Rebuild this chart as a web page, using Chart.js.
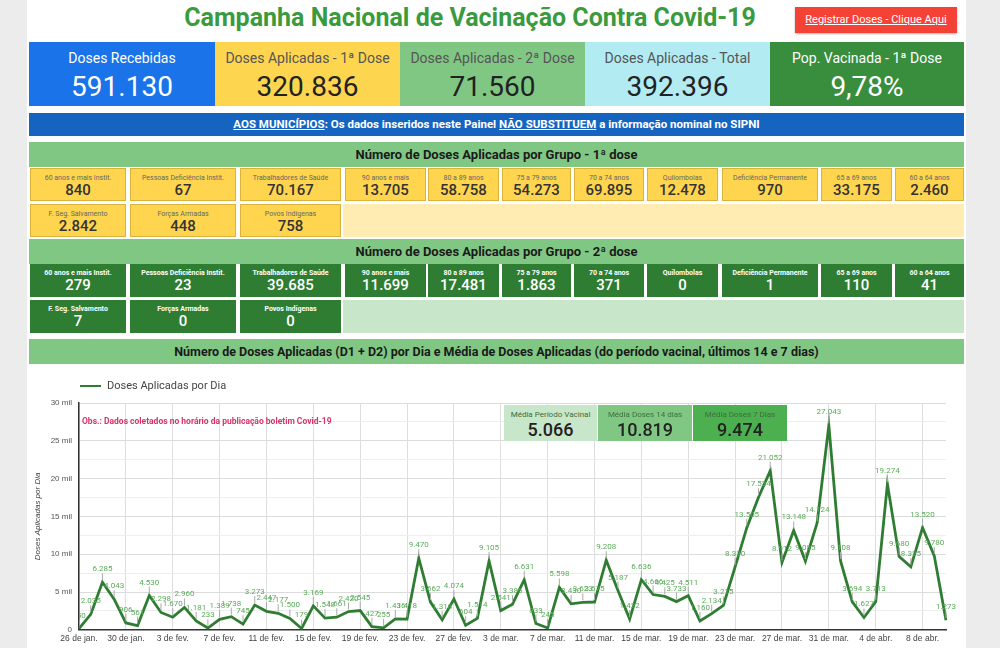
<!DOCTYPE html>
<html>
<head>
<meta charset="utf-8">
<script src="https://cdn.jsdelivr.net/npm/chart.js@4.4.1/dist/chart.umd.min.js"></script>
<style>
  body { margin: 0; width: 1000px; height: 648px; overflow: hidden; position: relative; background: #ececec; font-family: Roboto, "Noto Sans", sans-serif; }
  #pagina { position: absolute; left: 27px; top: 0; width: 939px; height: 648px; background: #fff; }
  .abs { position: absolute; box-sizing: border-box; }
  #titulo { left: 0; top: 3px; width: 940px; text-align: center; font-size: 25px; font-weight: 700; color: #3a9b3e; line-height: 30px; }
  #botao { left: 795px; top: 7px; width: 162px; height: 26px; background: #f44336; color: #fff; font-size: 11px; line-height: 26px; text-align: center; text-decoration: underline; box-shadow: 0 1px 2px rgba(0,0,0,.3); }
  .kpi { top: 42px; height: 64px; text-align: center; }
  .kpi .t { font-size: 14px; margin-top: 8px; line-height: 16px; }
  .kpi .v { font-size: 28px; line-height: 34px; margin-top: 4px; }
  #aviso { left: 29px; top: 113px; width: 935px; height: 23px; background: #1565c0; color: #fff; font-size: 11.5px; font-weight: 700; text-align: center; line-height: 23px; }
  .cab { left: 29px; width: 935px; height: 25px; background: #81c784; color: #1a1a1a; font-weight: 700; font-size: 13px; text-align: center; line-height: 25px; }
  .cel { height: 33px; text-align: center; }
  .cel .t { font-size: 7px; margin-top: 5px; line-height: 8px; white-space: nowrap; overflow: hidden; }
  .cel .v { font-size: 15px; font-weight: 500; line-height: 17px; }
  .d1 { background: #ffd54f; border: 1px solid #d9b33c; color: #333; }
  .d1 .t { color: #666; }
  .d2 { background: #2e7d32; color: #fff; }
  .d2 .t { font-weight: 700; }
  .media { top: 405px; height: 36px; text-align: center; color: #222; }
  .media .t { font-size: 8px; margin-top: 5px; line-height: 10px; color: #3b6e3b; }
  .media .v { font-size: 18px; font-weight: 500; line-height: 20px; }
</style>
</head>
<body>
<div id="pagina"></div>
<div class="abs" id="titulo">Campanha Nacional de Vacinação Contra Covid-19</div>
<div class="abs" id="botao">Registrar Doses - Clique Aqui</div>

<div class="abs kpi" style="left:29px;width:186px;background:#1a73e8;color:#fff"><div class="t">Doses Recebidas</div><div class="v" id="k0"></div></div>
<div class="abs kpi" style="left:215px;width:185px;background:#fdd54f;color:#222"><div class="t" style="color:#555">Doses Aplicadas - 1ª Dose</div><div class="v" id="k1"></div></div>
<div class="abs kpi" style="left:400px;width:185px;background:#81c784;color:#222"><div class="t" style="color:#555">Doses Aplicadas - 2ª Dose</div><div class="v" id="k2"></div></div>
<div class="abs kpi" style="left:585px;width:185px;background:#b2ebf2;color:#222"><div class="t" style="color:#555">Doses Aplicadas - Total</div><div class="v" id="k3"></div></div>
<div class="abs kpi" style="left:770px;width:194px;background:#388e3c;color:#fff"><div class="t">Pop. Vacinada - 1ª Dose</div><div class="v" id="k4"></div></div>

<div class="abs" id="aviso"><u>AOS MUNICÍPIOS</u>: Os dados inseridos neste Painel <u>NÃO SUBSTITUEM</u> a informação nominal no SIPNI</div>

<div class="abs cab" style="top:142px">Número de Doses Aplicadas por Grupo - 1ª dose</div>
<div class="abs" style="left:343px;top:204px;width:621px;height:33px;background:#ffecb3"></div>
<div class="abs cab" style="top:239px">Número de Doses Aplicadas por Grupo - 2ª dose</div>
<div class="abs" style="left:343px;top:300px;width:621px;height:33px;background:#c8e6c9"></div>
<div class="abs cab" style="top:339px;font-size:12.5px">Número de Doses Aplicadas (D1 + D2) por Dia e Média de Doses Aplicadas (do período vacinal, últimos 14 e 7 dias)</div>
<div id="celulas"></div>

<div class="abs" style="left:29px;top:366px;width:935px;height:282px"><canvas id="grafico"></canvas></div>

<div class="abs" style="left:80px;top:385px;width:21px;height:2px;background:#2e7d32"></div>
<div class="abs" style="left:107px;top:378px;font-size:11px;color:#444;line-height:16px">Doses Aplicadas por Dia</div>
<div class="abs" style="left:82px;top:416px;font-size:8.5px;font-weight:700;color:#d6336c">Obs.: Dados coletados no horário da publicação boletim Covid-19</div>

<div class="abs media" style="left:504px;width:93px;background:#c8e6c9"><div class="t">Média Período Vacinal</div><div class="v" id="m0"></div></div>
<div class="abs media" style="left:598px;width:94px;background:#81c784"><div class="t">Média Doses 14 dias</div><div class="v" id="m1"></div></div>
<div class="abs media" style="left:693px;width:94px;background:#4caf50"><div class="t">Média Doses 7 Dias</div><div class="v" id="m2"></div></div>

<script>
// indicadores do topo
const indicadores = ['591.130', '320.836', '71.560', '392.396', '9,78%'];
const medias = ['5.066', '10.819', '9.474'];

// grupos prioritários
const grupos = ['60 anos e mais Instit.', 'Pessoas Deficiência Instit.', 'Trabalhadores de Saúde', '90 anos e mais',
  '80 a 89 anos', '75 a 79 anos', '70 a 74 anos', 'Quilombolas', 'Deficiência Permanente', '65 a 69 anos',
  '60 a 64 anos', 'F. Seg. Salvamento', 'Forças Armadas', 'Povos Indígenas'];
const dose1 = ['840', '67', '70.167', '13.705', '58.758', '54.273', '69.895', '12.478', '970', '33.175', '2.460', '2.842', '448', '758'];
const dose2 = ['279', '23', '39.685', '11.699', '17.481', '1.863', '371', '0', '1', '110', '41', '7', '0', '0'];

// doses aplicadas por dia
const dias = [
  '26 de jan.', '27 de jan.', '28 de jan.', '29 de jan.', '30 de jan.', '31 de jan.',
  '1 de fev.', '2 de fev.', '3 de fev.', '4 de fev.', '5 de fev.', '6 de fev.', '7 de fev.', '8 de fev.',
  '9 de fev.', '10 de fev.', '11 de fev.', '12 de fev.', '13 de fev.', '14 de fev.', '15 de fev.',
  '16 de fev.', '17 de fev.', '18 de fev.', '19 de fev.', '20 de fev.', '21 de fev.', '22 de fev.',
  '23 de fev.', '24 de fev.', '25 de fev.', '26 de fev.', '27 de fev.', '28 de fev.',
  '1 de mar.', '2 de mar.', '3 de mar.', '4 de mar.', '5 de mar.', '6 de mar.', '7 de mar.', '8 de mar.',
  '9 de mar.', '10 de mar.', '11 de mar.', '12 de mar.', '13 de mar.', '14 de mar.', '15 de mar.',
  '16 de mar.', '17 de mar.', '18 de mar.', '19 de mar.', '20 de mar.', '21 de mar.', '22 de mar.',
  '23 de mar.', '24 de mar.', '25 de mar.', '26 de mar.', '27 de mar.', '28 de mar.', '29 de mar.',
  '30 de mar.', '31 de mar.',
  '1 de abr.', '2 de abr.', '3 de abr.', '4 de abr.', '5 de abr.', '6 de abr.', '7 de abr.', '8 de abr.',
  '9 de abr.', '10 de abr.'];
const dosesPorDia = [
  150, 2035, 6285, 4043, 906, 561,
  4530, 2298, 1670, 2960, 1181, 233, 1389, 1738, 745, 3273, 2447, 2177, 1500, 179, 3169,
  1548, 1661, 2420, 2545, 427, 255, 1436, 1418, 9470, 3662, 1318, 4074, 604,
  1514, 9105, 2541, 3386, 6631, 833, 245, 5598, 3430, 3623, 3675, 9208, 5187, 1422, 6636,
  4666, 4425, 3733, 4511, 1160, 2134, 3215, 8330, 13505, 17534, 21052, 8912, 13148, 9085,
  14124, 27043,
  9108, 3694, 1627, 3713, 19274, 9680, 8325, 13520, 9780, 1273];

indicadores.forEach((v, i) => document.getElementById('k' + i).textContent = v);
medias.forEach((v, i) => document.getElementById('m' + i).textContent = v);

// posições das colunas dos cartões
const colX = [30, 130, 240, 345, 428, 502, 574, 647, 722, 821, 895];
const colW = [96, 106, 101, 81, 71, 69, 70, 71, 96, 71, 69];
const linhas = [[168, 'd1', dose1], [264, 'd2', dose2]];
let html = '';
linhas.forEach(([topo, cls, valores]) => {
  grupos.forEach((g, i) => {
    const col = i < 11 ? i : i - 11;
    const y = i < 11 ? topo : topo + 36;
    html += `<div class="abs cel ${cls}" style="left:${colX[col]}px;top:${y}px;width:${colW[col]}px">` +
      `<div class="t">${g}</div><div class="v">${valores[i]}</div></div>`;
  });
});
document.getElementById('celulas').innerHTML = html;

const fmt = n => String(n).replace(/\B(?=(\d{3})+(?!\d))/g, '.');

// rótulos com haste acima de cada ponto
const rotulos = {
  id: 'rotulos',
  afterDatasetsDraw(chart) {
    const { ctx, chartArea: a } = chart;
    const meta = chart.getDatasetMeta(0);
    ctx.save();
    ctx.beginPath();
    ctx.rect(a.left, a.top - 20, a.right - a.left + 30, a.bottom - a.top + 20);
    ctx.clip();
    ctx.font = '8px Roboto';
    ctx.textAlign = 'center';
    ctx.textBaseline = 'bottom';
    meta.data.forEach((p, i) => {
      ctx.strokeStyle = '#aaaaaa';
      ctx.lineWidth = 1;
      ctx.beginPath();
      ctx.moveTo(p.x, p.y - 2);
      ctx.lineTo(p.x, p.y - 9);
      ctx.stroke();
      ctx.fillStyle = '#5aab5a';
      ctx.fillText(fmt(dosesPorDia[i]), p.x, p.y - 9);
    });
    ctx.restore();
  }
};

new Chart(document.getElementById('grafico'), {
  type: 'line',
  data: {
    labels: dias,
    datasets: [{
      label: 'Doses Aplicadas por Dia',
      data: dosesPorDia,
      borderColor: '#2e7d32',
      borderWidth: 2.8,
      pointRadius: 0,
      tension: 0,
      fill: false
    }]
  },
  options: {
    responsive: true,
    maintainAspectRatio: false,
    animation: false,
    layout: { padding: { top: 37, right: 18, bottom: 0, left: 0 } },
    plugins: { legend: { display: false }, tooltip: { enabled: false } },
    scales: {
      x: {
        grid: { color: c => c.index % 4 === 0 ? '#dedede' : 'transparent', drawTicks: false },
        border: { color: '#333', width: 1.5 },
        ticks: {
          autoSkip: false, maxRotation: 0, padding: 4, color: '#444', font: { size: 8.5 },
          callback: (v, i) => i % 4 === 0 ? dias[i] : ''
        }
      },
      y: {
        min: 0, max: 30000,
        afterFit: s => { s.width = 50; },
        grid: { color: c => c.tick && c.tick.value % 5000 === 0 ? '#dcdcdc' : '#eeeeee', drawTicks: false },
        border: { color: '#333', width: 1.5 },
        ticks: {
          stepSize: 2500, padding: 7, color: '#555', font: { size: 8 },
          callback: v => v % 5000 !== 0 ? '' : (v === 0 ? '0' : (v / 1000) + ' mil')
        },
        title: { display: true, text: 'Doses Aplicadas por Dia', color: '#444', font: { size: 8, style: 'italic' } }
      }
    }
  },
  plugins: [rotulos]
});
</script>
</body>
</html>
